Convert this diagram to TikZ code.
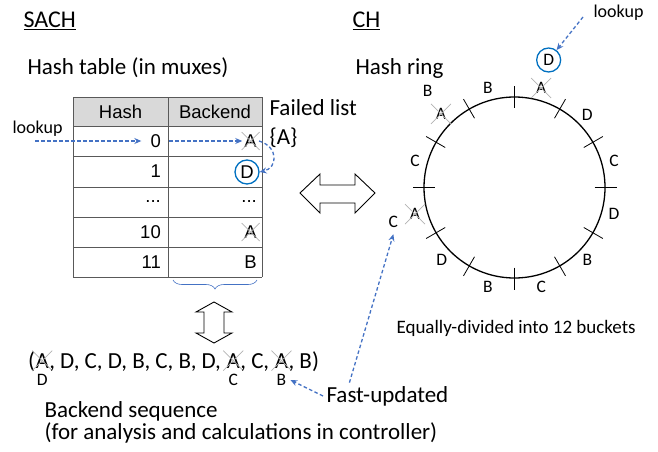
\documentclass[tikz,border=0pt]{standalone}
\usepackage{fontspec}
\setmainfont{Carlito}
\newfontfamily\tabfont{Liberation Sans}
\usetikzlibrary{arrows.meta,positioning,calc,decorations.pathreplacing}

\definecolor{lkblue}{RGB}{68,114,196}
\definecolor{ringblue}{RGB}{0,112,192}
\definecolor{hdgray}{RGB}{217,217,217}
\definecolor{gridgray}{RGB}{89,89,89}

\tikzset{
  titletxt/.style={font=\fontsize{24}{28}\selectfont},
  bigtxt/.style={font=\fontsize{23}{27}\selectfont},
  midtxt/.style={font=\fontsize{19}{22}\selectfont},
  smalltxt/.style={font=\fontsize{18}{21}\selectfont},
  ringtxt/.style={font=\fontsize{17.5}{20}\selectfont, inner sep=0pt},
  tabtxt/.style={font=\tabfont\fontsize{18.5}{22}\selectfont, inner sep=0pt},
  seqtxt/.style={font=\fontsize{23}{27}\selectfont, inner sep=0pt},
  lkarrow/.style={lkblue, line width=1.3pt, dash pattern=on 3.5pt off 2.5pt,
    -{Stealth[length=7pt,width=6pt]}},
  failed/.style={append after command={
    ([shift={(-#1,-#1)}]\tikzlastnode.center) edge[gray!60, line width=0.7pt] ([shift={(#1,#1)}]\tikzlastnode.center)
    ([shift={(-#1,#1)}]\tikzlastnode.center) edge[gray!60, line width=0.7pt] ([shift={(#1,-#1)}]\tikzlastnode.center)}},
  failed/.default=10pt,
  circled/.style={circle, draw=ringblue, line width=1.3pt, minimum size=24pt, inner sep=0pt},
}

\begin{document}
\begin{tikzpicture}[x=1pt,y=-1pt]
  \useasboundingbox (0,0) rectangle (658,452);

  % titles
  \node[titletxt,anchor=west] (sach) at (20,21) {\underline{SACH}};
  \node[bigtxt,anchor=west] (htab) at (24,68) {Hash table (in muxes)};
  \node[titletxt,anchor=west] (ch) at (349,21) {\underline{CH}};
  \node[bigtxt,anchor=west] (hring) at (352,68) {Hash ring};

  % hash table
  \fill[hdgray] (73,97) rectangle (262,126);
  \foreach \y in {97,126,156,187,217,247,277}
    \draw[gridgray,line width=0.9pt] (73,\y) -- (262,\y);
  \foreach \x in {73,168,262}
    \draw[gridgray,line width=0.9pt] (\x,97) -- (\x,277);
  \node[tabtxt] (hh) at (120.5,111.5) {Hash};
  \node[tabtxt] (hb) at (215,111.5) {Backend};
  \node[tabtxt,anchor=east] (h0) at (161,141) {0};
  \node[tabtxt,anchor=east] (h1) at (161,171.5) {1};
  \node[tabtxt,anchor=east] (h2) at (161,202) {...};
  \node[tabtxt,anchor=east] (h3) at (161,232) {10};
  \node[tabtxt,anchor=east] (h4) at (161,262) {11};
  \node[tabtxt,anchor=east,failed=9pt] (be0) at (257,141) {A};
  \node[tabtxt,circled] (be1) at (247,172) {D};
  \node[tabtxt,anchor=east] (be2) at (257,202) {...};
  \node[tabtxt,anchor=east,failed=9pt] (be3) at (257,232) {A};
  \node[tabtxt,anchor=east] (be4) at (257,262) {B};

  \node[bigtxt,anchor=west] (flist) at (266,108) {Failed list};
  \node[bigtxt,anchor=west] (fset) at (266,138) {\{A\}};

  % lookup in the table
  \node[smalltxt,anchor=west] (lk1) at (9,129) {lookup};
  \coordinate (lk1s) at (35,141);
  \draw[lkarrow] (lk1s) -- ([xshift=-9pt]h0.west);
  \draw[lkarrow] ([xshift=8pt]h0.east) -- ([xshift=-2pt]be0.west);
  \draw[lkarrow] ([xshift=2pt]be0.east) .. controls +(20,6) and +(18,-4) .. (be1.east);

  \draw[decorate,decoration={brace,mirror,amplitude=9pt},lkblue,line width=0.6pt]
    (173,280) -- (257,280);

  % double arrows
  \draw[line width=0.9pt,fill=white] (300,193) -- (320,174) -- (320,185) -- (355,185)
    -- (355,174) -- (375,193) -- (355,213) -- (355,203) -- (320,203) -- (320,213) -- cycle;
  \draw[line width=0.9pt,fill=white] (214,302) -- (232,312) -- (224,312) -- (224,333)
    -- (232,333) -- (214,343) -- (196,333) -- (204,333) -- (204,312) -- (196,312) -- cycle;

  % hash ring
  \coordinate (ctr) at (514.5,187.5);
  \draw[line width=1.3pt] (ctr) circle[radius=90.5pt];
  \foreach \a in {0,30,...,330}
    \draw[line width=0.8pt] ($(ctr)+(\a:80pt)$) -- ($(ctr)+(\a:102pt)$);
  \foreach \a/\lbl in {45/D,15/C,-15/D,-45/B,-75/C,-105/B,-135/D,165/C,105/B}
    \node[ringtxt] at ($(ctr)+(\a:103pt)$) {\lbl};
  \node[ringtxt,failed] (r75) at ($(ctr)+(75:103pt)$) {A};
  \node[ringtxt,failed] (r135) at ($(ctr)+(135:104pt)$) {A};
  \node[ringtxt,failed] (r195) at ($(ctr)+(195:103pt)$) {A};
  \node[ringtxt,circled] (rD) at ($(ctr)+(75:132pt)$) {D};
  \node[ringtxt] (rB) at ($(ctr)+(132:130pt)$) {B};
  \node[ringtxt] (rC) at ($(ctr)+(196:126pt)$) {C};

  \node[smalltxt,anchor=west] (lk2) at (590,13) {lookup};
  \coordinate (lk2s) at (583,17);
  \draw[lkarrow] (lk2s) -- (rD);

  \node[midtxt,anchor=west] (eq) at (393,328) {Equally-divided into 12 buckets};

  % backend sequence
  \node[seqtxt,anchor=base west] (s0) at (28,368) {(};
  \node[seqtxt,anchor=base west,failed] (s1) at (s0.base east) {A};
  \node[seqtxt,anchor=base west] (s2) at (s1.base east) {, D, C, D, B, C, B, D,\kern.23em};
  \node[seqtxt,anchor=base west,failed] (s3) at (s2.base east) {A};
  \node[seqtxt,anchor=base west] (s4) at (s3.base east) {, C,\kern.23em};
  \node[seqtxt,anchor=base west,failed] (s5) at (s4.base east) {A};
  \node[seqtxt,anchor=base west] (s6) at (s5.base east) {, B)};
  \node[ringtxt,below=6pt of s1] (u1) {D};
  \node[ringtxt,below=6pt of s3] (u3) {C};
  \node[ringtxt,below=6pt of s5] (u5) {B};

  \node[bigtxt,anchor=west] (fast) at (323,396) {Fast-updated};
  \draw[lkarrow] (fast.west) -- ([xshift=4pt]u5.east);
  \draw[lkarrow] ([xshift=-38pt]fast.north) -- ([yshift=-6pt]rC.south);

  \node[bigtxt,anchor=west] (bseq) at (41,411) {Backend sequence};
  \node[bigtxt,anchor=west] (bnote) at (41,433) {(for analysis and calculations in controller)};
\end{tikzpicture}
\end{document}
